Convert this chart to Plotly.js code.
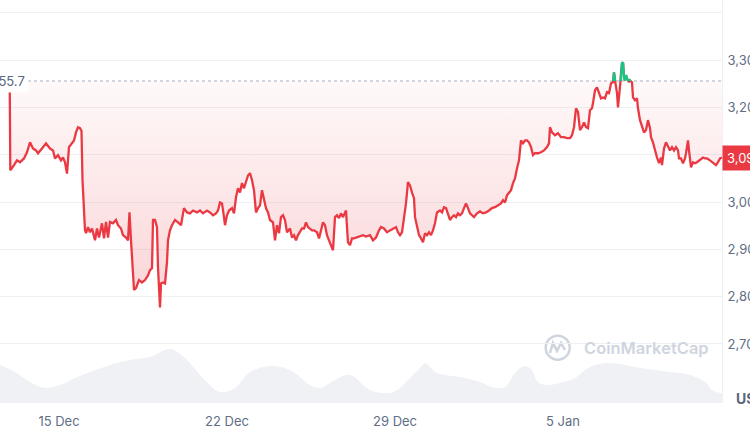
<!DOCTYPE html>
<html><head><meta charset="utf-8">
<script src="https://cdn.plot.ly/plotly-3.0.1.min.js"></script>
<style>html,body{margin:0;padding:0;background:#fff;overflow:hidden}#chart{width:750px;height:430px}</style>
</head><body><div id="chart"></div>
<script>
// ---- data ----
const startTime = Date.UTC(2024, 11, 12, 13, 0, 0); // hours below are counted from here
const baselinePrice = 3255.7;
const priceHours = [9.3,9.8,10.3,12,14,17,20,24,27,30,33,36,38,42,46,50,53,55,58,61,63,65,67,69,72,74,76,78,80,81.5,82.5,83.5,85,86,88,90,92,95,97,99,102,104,106,108,110,113,116,118,121,123,126,128,129.5,131,133,134,136,139,142,145,148,150,152,153,155,157,158,159,160,161,163,165,167,168,170,172,175,178,181,184,187,190,193,197,200,203,207,210,213,216,218,220,222,224,225,227,229,232,234,236,238,240,242,244,246,248,250,252,254,256,258,260,262,264,266,268,270,273,275,277,279,281,283,285,287,290,292,294,296,298,300,302,304,306,308,310,312,314,317,319,321,323,325,327,329,331,333,335,337,339,341,343,345,346,347,348,350,352,354,357,360,363,366,370,373,376,379,381,384,387,390,393,396,398,400,402,404,406,408,410,412,414,415,417,419,421,423,425,427,429,431,433,435,437,440,442,444,446,448,450,452,454,456,458,460,462,464,466,468,470,472,474,477,480,483,486,489,492,495,498,501,503,505,507,509,511,513,515,517,519,521,523,525,527,529,531,533,535,538,541,544,547,549,550,552,555,558,561,564,567,570,572,574,576,578,580,582,584,586,588,590,592,593,595,597,599,601,603,605,607,609,611,613,614,615,617,618,620,621,622,623,624,625,626,627,629,630,632,633,635,637,638,640,642,644,646,648,650,651,653,655,657,659,661,662,664,666,668,670,672,674,676,678,679,681,683,685,686,688,689,691,693,695,697,699,701,703,705,707,710,712,714,716,718,720,722];
const priceValues = [3255.7,3226,3067,3071,3078,3088,3084,3092,3105,3126,3113,3109,3103,3113,3124,3113,3109,3092,3099,3088,3094,3084,3060,3116,3124,3130,3147,3158,3156,3150,3046,2989,2940,2934,2947,2936,2944,2919,2944,2925,2955,2923,2958,2925,2958,2955,2962,2951,2944,2930,2925,2919,2978,2919,2856,2814,2818,2835,2830,2835,2845,2856,2860,2962,2962,2947,2862,2807,2777,2828,2830,2828,2873,2919,2940,2951,2962,2957,2951,2987,2978,2976,2982,2978,2982,2976,2982,2978,2972,2976,2982,2999,2997,2968,2951,2972,2982,2987,2976,3010,3029,3020,3040,3029,3042,3056,3061,3046,3025,2978,2987,2993,3025,3008,2987,2978,2962,2957,2919,2951,2934,2968,2972,2962,2936,2944,2925,2930,2919,2930,2936,2944,2944,2957,2947,2944,2940,2940,2936,2923,2940,2957,2951,2930,2919,2909,2898,2968,2972,2966,2976,2968,2978,2982,2947,2915,2909,2923,2923,2925,2927,2930,2927,2930,2919,2925,2940,2947,2944,2936,2940,2944,2947,2936,2930,2936,2962,2997,3042,3035,3020,3008,2968,2947,2930,2923,2915,2934,2930,2936,2930,2940,2955,2978,2982,2978,2989,2987,2976,2962,2968,2972,2968,2976,2972,2976,2987,2997,2987,2976,2972,2968,2976,2980,2976,2978,2982,2987,2989,2993,2997,3004,2999,3014,3020,3025,3040,3050,3071,3088,3130,3124,3130,3130,3126,3116,3099,3103,3103,3105,3109,3116,3124,3158,3147,3141,3145,3137,3137,3135,3135,3141,3158,3198,3190,3152,3158,3168,3158,3156,3194,3198,3209,3236,3242,3232,3219,3221,3219,3232,3230,3251,3253,3274,3257,3230,3200,3236,3272,3293,3295,3263,3257,3268,3261,3253,3257,3253,3221,3215,3219,3198,3173,3158,3147,3152,3173,3156,3137,3126,3109,3094,3082,3094,3078,3113,3126,3116,3109,3116,3109,3116,3109,3092,3092,3082,3092,3103,3130,3109,3073,3084,3082,3084,3088,3092,3094,3092,3092,3088,3084,3082,3078,3084,3092,3094];
const volumeHours = [0,15,30,45,60,75,90,110,130,150,170,185,200,220,235,250,270,290,310,320,335,350,370,390,400,410,420,425,430,435,445,460,480,495,505,515,522,530,538,545,560,575,585,595,610,625,640,655,670,690,705,712,720,722];
const volumeValues = [23.6,19.2,13.0,9.3,11.2,15.5,19.2,23.6,26.7,28.5,33.5,27.9,17.4,6.8,9.3,19.2,23.0,20.5,11.2,9.3,14.3,17.4,8.1,6.2,9.3,15.5,21.7,24.8,22.3,19.2,17.4,16.1,13.0,9.3,9.9,18.6,22.3,21.7,13.0,11.2,12.4,15.5,20.5,23.6,24.8,23.6,21.7,20.5,19.2,17.4,13.0,8.1,6.2,6.0]; // billions USD
const yTickValues = [2700,2800,2900,3000,3100,3200,3300,3400];
const yTickLabels = ['2,700','2,800','2,900','3,000','3,100','3,200','3,300',''];
const xTickDates = ['2024-12-15','2024-12-22','2024-12-29','2025-01-05'];
const xTickLabels = ['15 Dec','22 Dec','29 Dec','5 Jan'];

// ---- helpers ----
const toDate = h => new Date(startTime + h * 3600e3).toISOString().slice(0,19).replace('T',' ');
const RED = '#ea3943', GREEN = '#16c784';

// split into below/above baseline with crossing points
const hx = [], hy = [];
for (let i = 0; i < priceHours.length; i++) {
  if (i > 0) {
    const a = priceValues[i-1] - baselinePrice, b = priceValues[i] - baselinePrice;
    if ((a < 0 && b > 0) || (a > 0 && b < 0)) {
      const t = a / (a - b);
      hx.push(priceHours[i-1] + t * (priceHours[i] - priceHours[i-1]));
      hy.push(baselinePrice);
    }
  }
  hx.push(priceHours[i]); hy.push(priceValues[i]);
}
const dx = hx.map(toDate);
const lowY = hy.map(v => Math.min(v, baselinePrice));
const highY = hy.map(v => Math.max(v, baselinePrice));
const greenY = hy.map((v, i) => {
  const prevUp = i > 0 && hy[i-1] > baselinePrice;
  const nextUp = i < hy.length-1 && hy[i+1] > baselinePrice;
  return (v > baselinePrice || (v === baselinePrice && (prevUp || nextUp))) ? v : null;
});
const baseY = hy.map(() => baselinePrice);
const minP = Math.min(...priceValues);

const traces = [
  {x: dx, y: baseY, mode:'lines', line:{width:0}, hoverinfo:'skip'},
  {x: dx, y: lowY, mode:'lines', line:{width:0}, fill:'tonexty',
   fillgradient:{type:'vertical', start: minP, stop: baselinePrice,
     colorscale:[[0,'rgba(234,57,67,0.22)'],[1,'rgba(234,57,67,0.03)']]}, hoverinfo:'skip'},
  {x: dx, y: baseY, mode:'lines', line:{width:0}, hoverinfo:'skip'},
  {x: dx, y: highY, mode:'lines', line:{width:0}, fill:'tonexty', fillcolor:'rgba(22,199,132,0.12)', hoverinfo:'skip'},
  {x: volumeHours.map(toDate), y: volumeValues, yaxis:'y2', mode:'lines', line:{width:0, shape:'spline'},
   fill:'tozeroy', fillcolor:'#eff1f5', hoverinfo:'skip'},
  {x: dx, y: hy, mode:'lines', line:{color:RED, width:2.3}},
  {x: dx, y: greenY, mode:'lines', line:{color:GREEN, width:2.3}, connectgaps:false}
];

const PW = 722, PH = 403;
const px = x => x / PW, py = y => (PH - y) / PH;
const wm = '#cfd5df';
const last = priceValues[priceValues.length-1];

const layout = {
  width:750, height:430,
  margin:{l:0, r:28, t:0, b:27},
  paper_bgcolor:'#ffffff', plot_bgcolor:'rgba(0,0,0,0)',
  showlegend:false,
  font:{family:'Inter, "Open Sans", sans-serif', size:13, color:'#616e85'},
  xaxis:{type:'date', range:[toDate(0), toDate(722)], tickvals:xTickDates, ticktext:xTickLabels,
         showgrid:false, zeroline:false, showline:false, ticks:'', ticklabelstandoff:9,
         tickfont:{size:13, color:'#616e85'}},
  yaxis:{side:'right', range:[2575.3, 3426.8], tickvals:yTickValues, ticktext:yTickLabels,
         gridcolor:'#eef1f4', gridwidth:1, showline:true, linecolor:'#eef1f4', linewidth:1,
         zeroline:false, ticks:'', ticklabelstandoff:2, tickfont:{size:13, color:'#616e85'}},
  yaxis2:{domain:[0,0.2], range:[0,50], visible:false},
  shapes:[
    {type:'line', xref:'paper', x0:px(28), x1:1, yref:'y', y0:baselinePrice, y1:baselinePrice,
     line:{color:'#a6b0c3', width:1, dash:'dot'}, layer:'below'},
    {type:'circle', xref:'paper', yref:'paper', x0:px(545.7), x1:px(569.7), y0:py(359.7), y1:py(335.7),
     line:{color:wm, width:2.5}, layer:'below'},
    {type:'path', xref:'paper', yref:'paper', layer:'below', line:{color:wm, width:2.5},
     path:`M ${px(550)} ${py(353)} L ${px(553)} ${py(343)} L ${px(557)} ${py(351)} L ${px(561)} ${py(343)} L ${px(565)} ${py(350)}`}
  ],
  annotations:[
    {xref:'paper', x:px(29), xanchor:'right', yref:'y', y:baselinePrice, yanchor:'middle',
     text: baselinePrice.toLocaleString('en-US',{minimumFractionDigits:1}), showarrow:false,
     bgcolor:'#ffffff', borderpad:3, font:{size:13, color:'#58667e'}},
    {xref:'paper', x:1, xanchor:'left', yref:'y', y:last, yanchor:'middle',
     text: last.toLocaleString('en-US',{minimumFractionDigits:2}), showarrow:false,
     bgcolor:RED, borderpad:4, font:{size:13, color:'#ffffff'}},
    {xref:'paper', x:1, xanchor:'left', xshift:12, yref:'paper', y:py(398), yanchor:'middle',
     text:'<b>USD</b>', showarrow:false, font:{size:14, color:'#58667e'}},
    {xref:'paper', x:px(582), xanchor:'left', yref:'paper', y:py(348), yanchor:'middle',
     text:'CoinMarketCap', showarrow:false, font:{size:16.5, color:wm, weight:600}}
  ]
};

Plotly.newPlot('chart', traces, layout, {displayModeBar:false, staticPlot:true});
</script></body></html>
